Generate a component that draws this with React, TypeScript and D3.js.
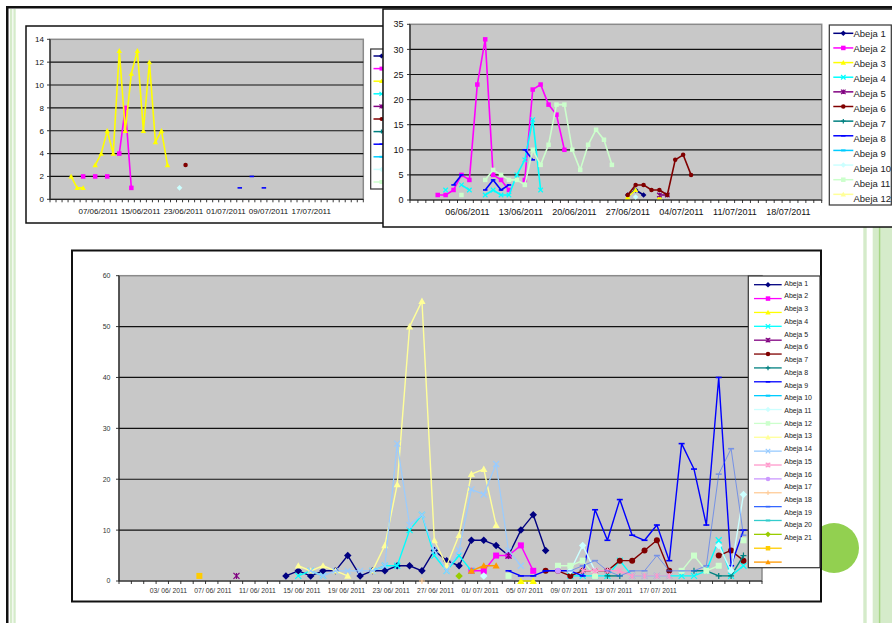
import React from "react";
import * as d3 from "d3";

type Pt = [number, number];

// ---------- palette / markers (Excel default series order) ----------
const PALETTE = [
  "#000080", "#FF00FF", "#FFFF00", "#00FFFF", "#800080", "#800000", "#008080",
  "#0000FF", "#00CCFF", "#CCFFFF", "#CCFFCC", "#FFFF99", "#99CCFF", "#FF99CC",
  "#CC99FF", "#FFCC99", "#3366FF", "#33CCCC", "#99CC00", "#FFCC00", "#FF9900",
];
const MARKERS = ["diamond", "square", "triangle", "x", "star", "circle", "plus", "dash", "longdash"];
const NAMES = d3.range(1, 22).map((k) => `Abeja ${k}`);

// ---------- top-left chart data (category index, value) ----------
const tlLabels = ["07/06/2011", "15/06/2011", "23/06/2011", "01/07/2011", "09/07/2011", "17/07/2011"];
const tlYTicks = [0, 2, 4, 6, 8, 10, 12, 14];
const tlAbeja2: Pt[] = [[5, 2], [7, 2], [9, 2], [11, 4], [12, 8], [13, 1]];
const tlAbeja3: Pt[] = [[3, 2], [4, 1], [5, 1], [7, 3], [8, 4], [9, 6], [10, 4], [11, 13], [12, 6], [13, 11], [14, 13], [15, 6], [16, 12], [17, 5], [18, 6], [19, 3]];
const tlAbeja6: Pt[] = [[22, 3]];
const tlAbeja8: Pt[] = [[31, 1], [33, 2], [35, 1]];
const tlAbeja10: Pt[] = [[21, 1]];

// ---------- top-right chart data ----------
const trLabels = ["06/06/2011", "13/06/2011", "20/06/2011", "27/06/2011", "04/07/2011", "11/07/2011", "18/07/2011"];
const trYTicks = [0, 5, 10, 15, 20, 25, 30, 35];
const trAbeja1: Pt[] = [[27, 1], [28, 2], [29, 1]];
const trAbeja2: Pt[] = [[3, 1], [4, 1], [5, 2], [6, 5], [7, 4], [8, 23], [9, 32], [10, 5], [11, 4], [12, 2], [14, 4], [15, 22], [16, 23], [17, 19], [18, 17], [19, 10]];
const trAbeja3: Pt[] = [[27, 0.6], [28, 2], [31, 0.6]];
const trAbeja4: Pt[] = [[4, 2], [6, 3], [7, 2], [9, 1], [10, 2], [11, 1], [12, 1], [13, 5], [14, 8], [15, 16], [16, 2]];
const trAbeja5: Pt[] = [[31, 1], [32, 1]];
const trAbeja6: Pt[] = [[27, 1], [28, 3], [29, 3], [30, 2], [31, 2], [32, 1], [33, 8], [34, 9], [35, 5]];
const trAbeja8: Pt[] = [[5, 3], [6, 5], [9, 2], [10, 4], [11, 2], [12, 3], [14, 10], [15, 8]];
const trAbeja10: Pt[] = [[28, 0.6]];
const trAbeja11: Pt[] = [[6, 1], [9, 4], [10, 6], [11, 5], [12, 4], [13, 4], [14, 3], [15, 10], [16, 7], [17, 11], [18, 19], [19, 19], [20, 10], [21, 6], [22, 11], [23, 14], [24, 12], [25, 7]];

// ---------- bottom chart data ----------
const bLabels = ["03/ 06/ 2011", "07/ 06/ 2011", "11/ 06/ 2011", "15/ 06/ 2011", "19/ 06/ 2011", "23/ 06/ 2011", "27/ 06/ 2011", "01/ 07/ 2011", "05/ 07/ 2011", "09/ 07/ 2011", "13/ 07/ 2011", "17/ 07/ 2011"];
const bYTicks = [0, 10, 20, 30, 40, 50, 60];
const bAbeja1: Pt[] = [[13, 1], [14, 2], [15, 1], [16, 2], [17, 2], [18, 5], [19, 1], [20, 2], [21, 2], [22, 3], [23, 3], [24, 2], [25, 6], [26, 4], [27, 3], [28, 8], [29, 8], [30, 7], [31, 5], [32, 10], [33, 13], [34, 6]];
const bAbeja2: Pt[] = [[28, 2], [29, 2], [30, 5], [31, 5], [32, 7], [33, 2]];
const bAbeja3: Pt[] = [[32, 0], [33, 0]];
const bAbeja4: Pt[] = [[14, 1], [15, 2], [16, 1], [20, 2], [21, 3], [22, 3], [23, 10], [24, 13], [25, 5], [26, 2], [27, 5], [28, 2], [36, 1], [37, 1], [38, 1], [39, 1], [40, 4], [41, 1], [42, 1], [43, 1], [44, 1], [45, 1], [46, 1], [47, 2], [48, 8], [49, 1], [50, 3]];
const bAbeja5: Pt[] = [[9, 1], [31, 5]];
const bAbeja6: Pt[] = [[34, 2], [35, 2], [36, 1], [37, 2], [38, 2], [39, 2], [40, 4], [41, 4], [42, 6], [43, 8], [44, 2], [48, 5], [49, 6], [50, 4]];
const bAbeja7: Pt[] = [[37, 2], [39, 1], [40, 1], [46, 2], [47, 2], [48, 1], [49, 1], [50, 5]];
const bAbeja8: Pt[] = [[31, 2], [32, 1], [33, 1], [34, 2], [35, 2], [36, 2], [37, 1], [38, 14], [39, 8], [40, 16], [41, 9], [42, 8], [43, 11], [44, 4], [45, 27], [46, 22], [47, 11], [48, 40], [49, 3], [50, 10]];
const bAbeja10: Pt[] = [[29, 1], [36, 2], [37, 7], [38, 2], [48, 7], [49, 2], [50, 17]];
const bAbeja11: Pt[] = [[31, 1], [35, 3], [36, 3], [37, 4], [38, 1], [45, 2], [46, 5], [47, 2], [48, 3], [50, 8]];
const bAbeja12: Pt[] = [[14, 3], [15, 2], [16, 3], [17, 2], [18, 1], [20, 2], [21, 7], [22, 19], [23, 50], [24, 55], [25, 8], [26, 3], [27, 9], [28, 21], [29, 22], [30, 11]];
const bAbeja13: Pt[] = [[15, 2], [16, 1], [17, 2], [18, 2], [19, 2], [20, 2], [21, 3], [22, 27], [23, 11], [24, 13], [25, 6], [26, 2], [27, 6], [28, 18], [29, 17], [30, 23], [31, 6], [32, 3]];
const bAbeja14: Pt[] = [[37, 2], [38, 2], [39, 2], [40, 2], [41, 1], [42, 1], [43, 1], [44, 1]];
const bAbeja15: Pt[] = [[35, 2]];
const bAbeja16: Pt[] = [[24, 0]];
const bAbeja17: Pt[] = [[36, 2], [37, 3], [38, 4], [39, 2], [40, 1], [41, 2], [42, 2], [43, 5], [44, 2], [45, 2], [46, 2], [47, 3], [48, 21], [49, 26], [50, 9]];
const bAbeja19: Pt[] = [[27, 1]];
const bAbeja20: Pt[] = [[6, 1]];
const bAbeja21: Pt[] = [[28, 2], [29, 3], [30, 3]];

const FONT = "Liberation Sans, Arial, Helvetica, sans-serif";
const PLOT_GRAY = "#C8C8C8";

type SeriesRef = { k: number; data: Pt[]; width?: number; opacity?: number };

interface ChartCfg {
  left: number; right: number; top: number; bottom: number;
  nCats: number; yMax: number; yTicks: number[];
  labels: string[]; labelStart: number; labelStep: number; labelY: number; xFont: number;
  yLabelX: number; yFont: number; textColor: string;
  series: SeriesRef[]; markerSize: number; lineWidth: number;
}

function runs(data: Pt[]): Pt[][] {
  const out: Pt[][] = [];
  let cur: Pt[] = [];
  data.forEach((p, j) => {
    if (j > 0 && p[0] !== data[j - 1][0] + 1) {
      out.push(cur);
      cur = [];
    }
    cur.push(p);
  });
  if (cur.length) out.push(cur);
  return out;
}

function Marker({ type, cx, cy, size, color }: { type: string; cx: number; cy: number; size: number; color: string }) {
  const s = size / 2;
  switch (type) {
    case "diamond": {
      const r = s * 1.25;
      return <path d={`M${cx},${cy - r}L${cx + r},${cy}L${cx},${cy + r}L${cx - r},${cy}Z`} fill={color} />;
    }
    case "square":
      return <rect x={cx - s} y={cy - s} width={size} height={size} fill={color} />;
    case "triangle": {
      const r = s * 1.2;
      return <path d={`M${cx},${cy - r}L${cx + r},${cy + r * 0.8}L${cx - r},${cy + r * 0.8}Z`} fill={color} />;
    }
    case "circle":
      return <circle cx={cx} cy={cy} r={s} fill={color} />;
    case "x":
      return <path d={`M${cx - s},${cy - s}L${cx + s},${cy + s}M${cx - s},${cy + s}L${cx + s},${cy - s}`} stroke={color} strokeWidth={1.2} fill="none" />;
    case "star":
      return <path d={`M${cx - s},${cy - s}L${cx + s},${cy + s}M${cx - s},${cy + s}L${cx + s},${cy - s}M${cx},${cy - s}V${cy + s}`} stroke={color} strokeWidth={1.2} fill="none" />;
    case "plus":
      return <path d={`M${cx - s},${cy}H${cx + s}M${cx},${cy - s}V${cy + s}`} stroke={color} strokeWidth={1.2} fill="none" />;
    case "dash":
      return <path d={`M${cx - s},${cy}H${cx + s}`} stroke={color} strokeWidth={1.6} fill="none" />;
    default:
      return <rect x={cx - s} y={cy - 1} width={size} height={2} fill={color} />;
  }
}

function Chart({ c }: { c: ChartCfg }) {
  const x = d3.scaleLinear().domain([0, c.nCats]).range([c.left, c.right]);
  const y = d3.scaleLinear().domain([0, c.yMax]).range([c.bottom, c.top]);
  const cx = (i: number) => x(i + 0.5);
  const line = d3.line<Pt>().x((d) => cx(d[0])).y((d) => y(d[1]));
  const cats = d3.range(0, c.nCats + 1);
  return (
    <g fontFamily={FONT}>
      <rect x={c.left} y={c.top} width={c.right - c.left} height={c.bottom - c.top} fill={PLOT_GRAY} stroke="#8a8a8a" strokeWidth={1.5} />
      {c.yTicks.filter((t) => t > 0 && t < c.yMax).map((t) => (
        <line key={`g${t}`} x1={c.left} x2={c.right} y1={y(t)} y2={y(t)} stroke="#111" strokeWidth={1.2} />
      ))}
      <line x1={c.left} x2={c.left} y1={c.top} y2={c.bottom} stroke="#222" strokeWidth={1.2} />
      <line x1={c.left} x2={c.right} y1={c.bottom} y2={c.bottom} stroke="#222" strokeWidth={1.2} />
      {cats.map((i) => (
        <line key={`t${i}`} x1={x(i)} x2={x(i)} y1={c.bottom} y2={c.bottom + 3} stroke="#222" strokeWidth={0.9} />
      ))}
      {c.yTicks.map((t) => (
        <line key={`yt${t}`} x1={c.left - 3} x2={c.left} y1={y(t)} y2={y(t)} stroke="#222" strokeWidth={0.9} />
      ))}
      {c.yTicks.map((t) => (
        <text key={`yl${t}`} x={c.yLabelX} y={y(t)} dy="0.35em" textAnchor="end" fontSize={c.yFont} fill={c.textColor}>{t}</text>
      ))}
      {c.labels.map((l, k) => (
        <text key={`xl${k}`} x={x(c.labelStart + k * c.labelStep)} y={c.labelY} dy="0.35em" textAnchor="middle" fontSize={c.xFont} fill={c.textColor}>{l}</text>
      ))}
      {c.series.map((s) => {
        const color = PALETTE[s.k - 1];
        const mtype = MARKERS[(s.k - 1) % MARKERS.length];
        return (
          <g key={`s${s.k}`} opacity={s.opacity ?? 1}>
            {runs(s.data).filter((r) => r.length > 1).map((r, j) => (
              <path key={j} d={line(r) || ""} fill="none" stroke={color} strokeWidth={s.width ?? c.lineWidth} strokeLinejoin="round" />
            ))}
            {s.data.map((p, j) => (
              <Marker key={`m${j}`} type={mtype} cx={cx(p[0])} cy={y(p[1])} size={c.markerSize} color={color} />
            ))}
          </g>
        );
      })}
    </g>
  );
}

interface LegendCfg {
  x: number; y: number; w: number; h: number; count: number;
  lineY0: number; lineStep: number; textY0: number; textStep: number;
  lx1: number; lx2: number; mx: number; tx: number; font: number; markerSize: number; lineWidth: number;
  showText: boolean;
}

function Legend({ l }: { l: LegendCfg }) {
  return (
    <g fontFamily={FONT}>
      <rect x={l.x} y={l.y} width={l.w} height={l.h} fill="#fff" stroke="#333" strokeWidth={1.2} />
      {d3.range(l.count).map((i) => {
        const color = PALETTE[i];
        const ly = l.lineY0 + i * l.lineStep;
        return (
          <g key={i}>
            <line x1={l.lx1} x2={l.lx2} y1={ly} y2={ly} stroke={color} strokeWidth={l.lineWidth} />
            <Marker type={MARKERS[i % MARKERS.length]} cx={l.mx} cy={ly} size={l.markerSize} color={color} />
          </g>
        );
      })}
      {l.showText && d3.range(l.count).map((i) => (
        <text key={`t${i}`} x={l.tx} y={l.textY0 + i * l.textStep} dy="0.35em" fontSize={l.font} fill="#222">{NAMES[i]}</text>
      ))}
    </g>
  );
}

const tlCfg: ChartCfg = {
  left: 50, right: 363.3, top: 39.3, bottom: 199.3, nCats: 52, yMax: 14, yTicks: tlYTicks,
  labels: tlLabels, labelStart: 8.0, labelStep: 7.07, labelY: 211.3, xFont: 8,
  yLabelX: 44, yFont: 8, textColor: "#111",
  series: [
    { k: 2, data: tlAbeja2 }, { k: 3, data: tlAbeja3 }, { k: 6, data: tlAbeja6 },
    { k: 8, data: tlAbeja8 }, { k: 10, data: tlAbeja10 },
  ],
  markerSize: 4.5, lineWidth: 1.6,
};

const trCfg: ChartCfg = {
  left: 410, right: 821.7, top: 24.3, bottom: 200, nCats: 52, yMax: 35, yTicks: trYTicks,
  labels: trLabels, labelStart: 7.24, labelStep: 6.76, labelY: 212.3, xFont: 9,
  yLabelX: 403.5, yFont: 9, textColor: "#111",
  series: [
    { k: 1, data: trAbeja1 }, { k: 2, data: trAbeja2 }, { k: 3, data: trAbeja3 },
    { k: 4, data: trAbeja4 }, { k: 5, data: trAbeja5 }, { k: 6, data: trAbeja6 },
    { k: 8, data: trAbeja8 }, { k: 10, data: trAbeja10 }, { k: 11, data: trAbeja11 },
  ],
  markerSize: 4.5, lineWidth: 1.6,
};

const bCfg: ChartCfg = {
  left: 119, right: 762, top: 275.7, bottom: 581, nCats: 52, yMax: 60, yTicks: bYTicks,
  labels: bLabels, labelStart: 4.0, labelStep: 3.6, labelY: 590.7, xFont: 6.8,
  yLabelX: 110.5, yFont: 7, textColor: "#333",
  series: [
    { k: 1, data: bAbeja1 }, { k: 2, data: bAbeja2 }, { k: 3, data: bAbeja3 },
    { k: 4, data: bAbeja4 }, { k: 5, data: bAbeja5 }, { k: 6, data: bAbeja6 },
    { k: 7, data: bAbeja7 }, { k: 8, data: bAbeja8 }, { k: 10, data: bAbeja10 },
    { k: 11, data: bAbeja11 }, { k: 12, data: bAbeja12 }, { k: 13, data: bAbeja13, width: 1.2 },
    { k: 14, data: bAbeja14 }, { k: 15, data: bAbeja15 }, { k: 16, data: bAbeja16 },
    { k: 17, data: bAbeja17, width: 1, opacity: 0.55 }, { k: 19, data: bAbeja19 }, { k: 20, data: bAbeja20 },
    { k: 21, data: bAbeja21 },
  ],
  markerSize: 6, lineWidth: 1.4,
};

const tlLegend: LegendCfg = {
  x: 370.7, y: 49, w: 60, h: 140, count: 11, lineY0: 56, lineStep: 12.6, textY0: 56, textStep: 12.6,
  lx1: 373.5, lx2: 394, mx: 381.5, tx: 396, font: 9, markerSize: 4, lineWidth: 1.5, showText: false,
};
const trLegend: LegendCfg = {
  x: 829.3, y: 25, w: 62, h: 180, count: 12, lineY0: 33.3, lineStep: 14.64, textY0: 33.3, textStep: 15.06,
  lx1: 833.3, lx2: 853.3, mx: 843.3, tx: 853.5, font: 9.5, markerSize: 4.5, lineWidth: 1.5, showText: true,
};
const bLegend: LegendCfg = {
  x: 748.3, y: 276, w: 71.7, h: 291.7, count: 21, lineY0: 284.7, lineStep: 13.87, textY0: 283.3, textStep: 12.72,
  lx1: 754, lx2: 781.7, mx: 768, tx: 784.3, font: 7, markerSize: 4.5, lineWidth: 1.3, showText: true,
};

export default function App() {
  return (
    <div style={{ position: "absolute", left: 0, top: 0 }}>
      <svg width={892} height={623} viewBox="0 0 892 623" style={{ display: "block", background: "#fff" }}>
        <rect x={0} y={0} width={892} height={623} fill="#fff" />
        {/* slide frame */}
        <rect x={6} y={6} width={886} height={2.5} fill="#111" />
        <rect x={6} y={6} width={2.5} height={617} fill="#111" />
        <rect x={10} y={9} width={2.3} height={614} fill="#d5ebca" />
        <rect x={13.4} y={9} width={2.3} height={614} fill="#d5ebca" />
        {/* right decoration */}
        <rect x={863.3} y={227} width={3.4} height={396} fill="#d5ebca" />
        <rect x={872.7} y={227} width={6} height={396} fill="#d5ebca" />
        <rect x={878.7} y={227} width={2} height={396} fill="#a6d585" />
        <rect x={880.7} y={227} width={11.3} height={396} fill="#d5ebca" />
        <circle cx={834} cy={548} r={25} fill="#92D050" />

        {/* top-left chart */}
        <rect x={26} y={26} width={380} height={197} fill="#fff" stroke="#111" strokeWidth={1.5} />
        <Chart c={tlCfg} />
        <Legend l={tlLegend} />

        {/* top-right chart */}
        <rect x={383} y={9} width={520} height={218} fill="#fff" stroke="#111" strokeWidth={1.5} />
        <Chart c={trCfg} />
        <Legend l={trLegend} />

        {/* bottom chart */}
        <rect x={72} y={250.5} width={749} height={351} fill="#fff" stroke="#111" strokeWidth={2} />
        <Chart c={bCfg} />
        <Legend l={bLegend} />
      </svg>
    </div>
  );
}
